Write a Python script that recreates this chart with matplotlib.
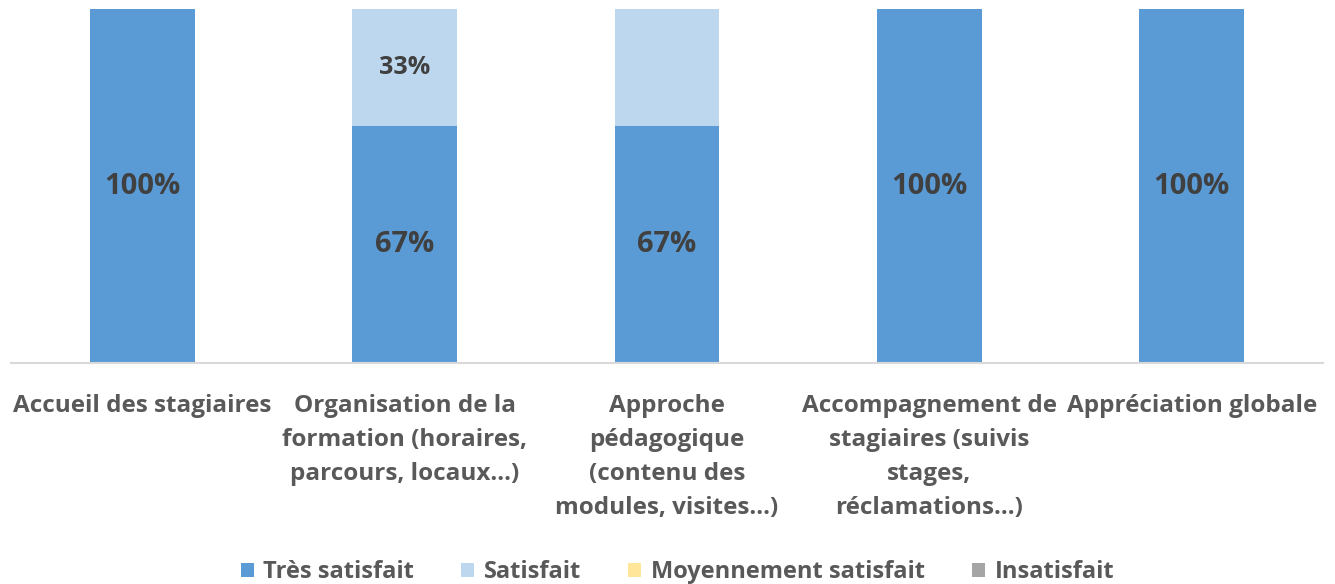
import matplotlib.pyplot as plt
import numpy as np

plt.rcParams['font.family'] = ['Open Sans', 'DejaVu Sans']

categories = ['Accueil des stagiaires',
              'Organisation de la\nformation (horaires,\nparcours, locaux…)',
              'Approche\npédagogique\n(contenu des\nmodules, visites…)',
              'Accompagnement de\nstagiaires (suivis\nstages,\nréclamations…)',
              'Appréciation globale']
series = ['Très satisfait', 'Satisfait', 'Moyennement satisfait', 'Insatisfait']
tres_satisfait = [100, 67, 67, 100, 100]
satisfait = [0, 33, 33, 0, 0]
moyen = [0, 0, 0, 0, 0]
insatisfait = [0, 0, 0, 0, 0]
# labels as shown on the chart (third "Satisfait" has none)
tres_labels = ['100%', '67%', '67%', '100%', '100%']
sat_labels = ['', '33%', '', '', '']

colors = ['#5B9BD5', '#BDD7EE', '#FFE699', '#A5A5A5']

fig = plt.figure(figsize=(13.35, 5.84), dpi=100)
ax = fig.add_axes([11 / 1335, 1 - 363 / 584, 1312 / 1335, 354 / 584])

x = np.arange(len(categories))
bottom = np.zeros(len(categories))
bars = []
for name, vals, c in zip(series, [tres_satisfait, satisfait, moyen, insatisfait], colors):
    b = ax.bar(x, vals, 0.4, bottom=bottom, color=c, label=name, zorder=2)
    bars.append(b)
    bottom += np.array(vals)

ax.bar_label(bars[0], labels=tres_labels, label_type='center', fontsize=21,
             fontweight='bold', color='#404040')
ax.bar_label(bars[1], labels=sat_labels, label_type='center', fontsize=18,
             fontweight='bold', color='#404040')

ax.set_xlim(-0.5, len(categories) - 0.5)
ax.set_ylim(0, 100)
ax.set_yticks([])
ax.set_xticks(x)
ax.set_xticklabels(categories, fontsize=17.5, fontweight='bold', color='#595959',
                   linespacing=1.57)
ax.tick_params(axis='x', length=0, pad=22)
for s in ['top', 'left', 'right']:
    ax.spines[s].set_visible(False)
ax.spines['bottom'].set_color('#D9D9D9')
ax.spines['bottom'].set_linewidth(1.5)

ax.legend(loc='lower center', bbox_to_anchor=(0.508, -0.685), ncol=4, frameon=False,
          prop={'size': 17, 'weight': 'bold'}, labelcolor='#595959',
          handlelength=0.55, handleheight=0.55, handletextpad=0.4, columnspacing=2.0)

fig.savefig('out.png', dpi=100)
